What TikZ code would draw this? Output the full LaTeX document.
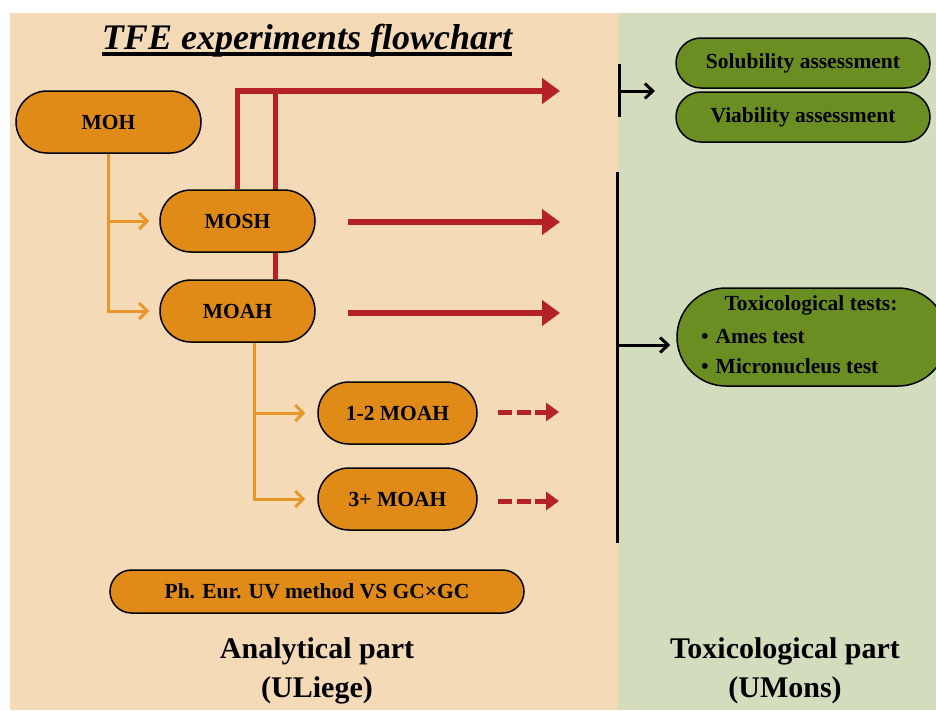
\documentclass[tikz,border=0pt]{standalone}
\usepackage{fontspec}
\setmainfont{Liberation Serif}
\usetikzlibrary{shapes.misc,arrows.meta,calc}
\definecolor{peach}{HTML}{F5DAB8}
\definecolor{greenbg}{HTML}{D3DDBE}
\definecolor{orfill}{HTML}{E08A17}
\definecolor{grfill}{HTML}{6B8E23}
\definecolor{redc}{HTML}{B42126}
\definecolor{orline}{HTML}{E8962A}
\pgfdeclarelayer{bg}\pgfdeclarelayer{mid}\pgfsetlayers{bg,mid,main}
\newcommand{\nodefnt}{\fontsize{21.5}{24}\selectfont\bfseries}
\newcommand{\partfnt}{\fontsize{30}{34}\selectfont\bfseries}
\begin{document}
\begin{tikzpicture}[x=1pt,y=-1pt,
  obox/.style={rounded rectangle, draw=black, line width=1.5pt, fill=orfill, inner sep=0pt, font=\nodefnt},
  gbox/.style={rounded rectangle, draw=black, line width=1.5pt, fill=grfill, inner sep=0pt, font=\nodefnt},
  txt/.style={inner sep=0pt, font=\nodefnt},
  parttxt/.style={inner sep=0pt, font=\partfnt, anchor=base},
  redline/.style={draw=redc, line width=5.5pt, -{Triangle[length=18pt 0,width=25pt 0]}},
  redplain/.style={draw=redc, line width=5pt},
  reddash/.style={draw=redc, line width=5pt, dash pattern=on 14pt off 4.5pt, -{Triangle[length=13pt 0,width=18pt 0]}},
  orline/.style={draw=orline, line width=3pt, -{Straight Barb[length=8pt,width=16pt]}},
  blkline/.style={draw=black, line width=3pt},
  blkarrow/.style={draw=black, line width=3pt, -{Straight Barb[length=8pt,width=15pt]}}
]
\useasboundingbox (0,0) rectangle (936,710);
\clip (0,0) rectangle (936,710);
\begin{pgfonlayer}{bg}
\fill[white] (0,0) rectangle (936,710);
\fill[peach] (10,13) rectangle (618,710);
\fill[greenbg] (618,13) rectangle (936,710);
\end{pgfonlayer}

% title
\node[inner sep=0pt, anchor=base, font=\fontsize{36}{40}\selectfont\bfseries\itshape] (title) at (307,49) {TFE experiments flowchart};
\draw[line width=3.2pt] ([yshift=-5pt]title.base west) -- ([yshift=-5pt]title.base east);

% orange nodes
\node[obox, minimum width=185pt, minimum height=62pt] (moh) at (108.5,122) {MOH};
\node[obox, minimum width=155pt, minimum height=62pt] (mosh) at (237.5,221) {MOSH};
\node[obox, minimum width=155pt, minimum height=62pt] (moah) at (237.5,311) {MOAH};
\node[obox, minimum width=159pt, minimum height=62pt] (m12) at (397.5,413) {1-2 MOAH};
\node[obox, minimum width=159pt, minimum height=62pt] (m3p) at (397.5,499) {3+ MOAH};
\node[obox, minimum width=414pt, minimum height=43pt] (ph) at (317,591.5) {Ph. Eur. UV method VS GC×GC};

% green nodes
\node[gbox, minimum width=254pt, minimum height=50pt] (sol) at (803,63) {Solubility assessment};
\node[gbox, minimum width=254pt, minimum height=50pt] (via) at (803,117) {Viability assessment};
\node[gbox, minimum width=270pt, minimum height=98pt] (tox) at (812,337) {};
\node[txt] (toxt) at (811,305) {Toxicological tests:};
\node[txt, anchor=west] (ames) at (701,336) {\textbullet\hspace{7pt}Ames test};
\node[txt, anchor=west] (micro) at (701,366) {\textbullet\hspace{7pt}Micronucleus test};

% part labels
\node[parttxt] (ana) at (317,658) {Analytical part};
\node[parttxt] (uliege) at (317,697) {(ULiege)};
\node[parttxt] (toxp) at (785,658) {Toxicological part};
\node[parttxt] (umons) at (785,697) {(UMons)};

% coordinates
\coordinate (rtop) at (560,91);
\coordinate (ms1) at (348,222);
\coordinate (ms2) at (560,222);
\coordinate (ma1) at (348,313);
\coordinate (ma2) at (560,313);
\coordinate (d1a) at (498,412);
\coordinate (d1b) at (559,412);
\coordinate (d2a) at (498,501);
\coordinate (d2b) at (559,501);
\coordinate (b1) at (619,64);
\coordinate (b2) at (619,117);
\coordinate (b3) at (619,91);
\coordinate (b4) at (655,91);
\coordinate (l1) at (617,172);
\coordinate (l2) at (617,543);
\coordinate (l3) at (617,345);

\begin{pgfonlayer}{mid}
% red connectors
\draw[redplain] ([xshift=37.5pt]moah.north) -- ([xshift=37.5pt]moah.north |- rtop);
\draw[redline] (mosh.north) |- (rtop);
\draw[redline] (ms1) -- (ms2);
\draw[redline] (ma1) -- (ma2);
\draw[reddash] (d1a) -- (d1b);
\draw[reddash] (d2a) -- (d2b);
% orange connectors
\draw[orline, shorten >=10pt] (moh.south) |- (mosh.west);
\draw[orline, shorten >=10pt] (moh.south) |- (moah.west);
\draw[orline, shorten >=12pt] ([xshift=17pt]moah.south) |- (m12.west);
\draw[orline, shorten >=12pt] ([xshift=17pt]moah.south) |- (m3p.west);
% black connectors
\draw[blkline] (b1) -- (b2);
\draw[blkarrow] (b3) -- (b4);
\draw[blkline] (l1) -- (l2);
\draw[blkarrow, shorten >=6pt] (l3) -- (l3 -| tox.west);
\end{pgfonlayer}
\end{tikzpicture}
\end{document}
